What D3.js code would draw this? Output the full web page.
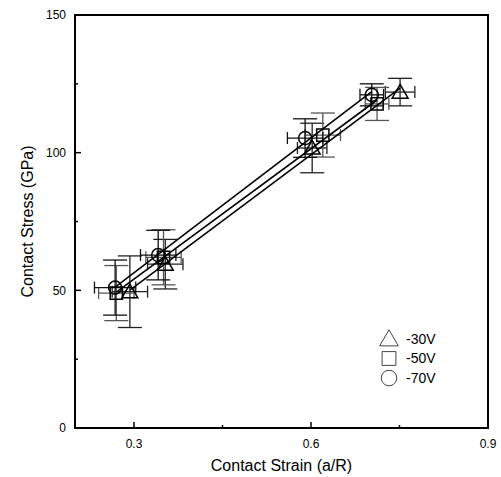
<!DOCTYPE html>
<meta charset="utf-8" />
<head>
  <style>
    body { margin: 0; background: #fff; }
    svg text { font-family: "Liberation Sans", Arial, sans-serif; fill: #000; }
  </style>
</head>
<script src="https://d3js.org/d3.v7.min.js"></script>
<body>
  <div id="chart"></div>
  <script>
    // series: strain (a/R), stress (GPa), error bars
    const seriesNames = ["-30V", "-50V", "-70V"];
    const symbols = ["triangle", "square", "circle"];

    const strain30 = [0.293, 0.353, 0.602, 0.751];
    const stress30 = [49.5, 59.5, 101.7, 122.0];
    const xErr30 = [0.03, 0.03, 0.025, 0.025];
    const yErr30 = [13, 9, 9, 5];

    const strain50 = [0.270, 0.350, 0.620, 0.712];
    const stress50 = [49.0, 62.0, 106.4, 117.7];
    const xErr50 = [0.03, 0.03, 0.03, 0.02];
    const yErr50 = [10, 10, 8, 6];

    const strain70 = [0.268, 0.341, 0.590, 0.703];
    const stress70 = [51.0, 62.8, 105.3, 121.0];
    const xErr70 = [0.035, 0.03, 0.03, 0.02];
    const yErr70 = [10, 9, 7, 4];

    const xTicks = [0.3, 0.6, 0.9];
    const xMinor = [0.45, 0.75];
    const yTicks = [0, 50, 100, 150];
    const yMinor = [25, 75, 125];

    ////////////// SVG setup //////////////
    const svgWidth = 501, svgHeight = 477;
    const margin = { left: 75, right: 13, top: 15, bottom: 49 };
    const width = svgWidth - margin.left - margin.right;
    const height = svgHeight - margin.top - margin.bottom;

    const svg = d3.select("#chart").append("svg")
      .attr("width", svgWidth).attr("height", svgHeight);
    const g = svg.append("g")
      .attr("transform", `translate(${margin.left},${margin.top})`);

    const x = d3.scaleLinear().domain([0.2, 0.9]).range([0, width]);
    const y = d3.scaleLinear().domain([0, 150]).range([height, 0]);

    const series = [
      { xs: strain30, ys: stress30, xe: xErr30, ye: yErr30 },
      { xs: strain50, ys: stress50, xe: xErr50, ye: yErr50 },
      { xs: strain70, ys: stress70, xe: xErr70, ye: yErr70 },
    ];

    ////////////// error bars //////////////
    const errColors = ["#222", "#555", "#111"];
    series.forEach((s, si) => {
      s.xs.forEach((xv, i) => {
        const cx = x(xv), cy = y(s.ys[i]);
        const e = g.append("g").attr("stroke", errColors[si]).attr("stroke-width", 1.3).attr("fill", "none");
        const x0 = x(xv - s.xe[i]), x1 = x(xv + s.xe[i]);
        const y0 = y(s.ys[i] - s.ye[i]), y1 = y(s.ys[i] + s.ye[i]);
        e.append("line").attr("x1", x0).attr("x2", x1).attr("y1", cy).attr("y2", cy);
        e.append("line").attr("x1", x0).attr("x2", x0).attr("y1", cy - 6).attr("y2", cy + 6);
        e.append("line").attr("x1", x1).attr("x2", x1).attr("y1", cy - 6).attr("y2", cy + 6);
        e.append("line").attr("x1", cx).attr("x2", cx).attr("y1", y0).attr("y2", y1);
        e.append("line").attr("x1", cx - 12).attr("x2", cx + 12).attr("y1", y0).attr("y2", y0);
        e.append("line").attr("x1", cx - 12).attr("x2", cx + 12).attr("y1", y1).attr("y2", y1);
      });
    });

    ////////////// linear fits //////////////
    series.forEach((s) => {
      const n = s.xs.length;
      const mx = d3.mean(s.xs), my = d3.mean(s.ys);
      let sxy = 0, sxx = 0;
      for (let i = 0; i < n; i++) {
        sxy += (s.xs[i] - mx) * (s.ys[i] - my);
        sxx += (s.xs[i] - mx) ** 2;
      }
      const b = sxy / sxx, a = my - b * mx;
      const xa = d3.min(s.xs), xb = d3.max(s.xs);
      g.append("line")
        .attr("x1", x(xa)).attr("y1", y(a + b * xa))
        .attr("x2", x(xb)).attr("y2", y(a + b * xb))
        .attr("stroke", "#000").attr("stroke-width", 1.6);
    });

    ////////////// markers //////////////
    const symbolType = { triangle: d3.symbolTriangle, square: d3.symbolSquare, circle: d3.symbolCircle };
    const symbolSize = { triangle: 110, square: 150, circle: 135 };
    series.forEach((s, si) => {
      s.xs.forEach((xv, i) => {
        g.append("path")
          .attr("d", d3.symbol().type(symbolType[symbols[si]]).size(symbolSize[symbols[si]])())
          .attr("transform", `translate(${x(xv)},${y(s.ys[i]) + (symbols[si] === "triangle" ? 1.5 : 0)})`)
          .attr("fill", "none").attr("stroke", "#000").attr("stroke-width", 1.5);
      });
    });

    ////////////// axes //////////////
    g.append("rect").attr("width", width).attr("height", height)
      .attr("fill", "none").attr("stroke", "#000").attr("stroke-width", 2);

    xTicks.forEach((t) => {
      g.append("line").attr("x1", x(t)).attr("x2", x(t)).attr("y1", height).attr("y2", height - 6)
        .attr("stroke", "#000").attr("stroke-width", 1.5);
      g.append("text").attr("x", x(t)).attr("y", height + 20)
        .attr("text-anchor", "middle").attr("font-size", 12).text(t.toFixed(1));
    });
    xMinor.forEach((t) => {
      g.append("line").attr("x1", x(t)).attr("x2", x(t)).attr("y1", height).attr("y2", height - 3)
        .attr("stroke", "#000").attr("stroke-width", 1.5);
    });
    yTicks.forEach((t) => {
      g.append("line").attr("x1", 0).attr("x2", 6).attr("y1", y(t)).attr("y2", y(t))
        .attr("stroke", "#000").attr("stroke-width", 1.5);
      g.append("text").attr("x", -9).attr("y", y(t)).attr("dy", "0.35em")
        .attr("text-anchor", "end").attr("font-size", 12).text(t);
    });
    yMinor.forEach((t) => {
      g.append("line").attr("x1", 0).attr("x2", 3).attr("y1", y(t)).attr("y2", y(t))
        .attr("stroke", "#000").attr("stroke-width", 1.5);
    });

    svg.append("text").attr("x", margin.left + width / 2).attr("y", 471)
      .attr("text-anchor", "middle").attr("font-size", 16).text("Contact Strain (a/R)");
    svg.append("text").attr("transform", `translate(33,${margin.top + height / 2}) rotate(-90)`)
      .attr("text-anchor", "middle").attr("font-size", 16).text("Contact Stress (GPa)");

    ////////////// legend //////////////
    seriesNames.forEach((name, i) => {
      const ly = 339 + i * 19.5;
      svg.append("path")
        .attr("d", d3.symbol().type(symbolType[symbols[i]]).size(symbols[i] === "triangle" ? 150 : 190)())
        .attr("transform", `translate(389,${ly + (symbols[i] === "triangle" ? 1.5 : 0)})`)
        .attr("fill", "none").attr("stroke", "#444").attr("stroke-width", 1);
      svg.append("text").attr("x", 406).attr("y", ly).attr("dy", "0.35em")
        .attr("font-size", 14).text(name);
    });
  </script>
</body>
